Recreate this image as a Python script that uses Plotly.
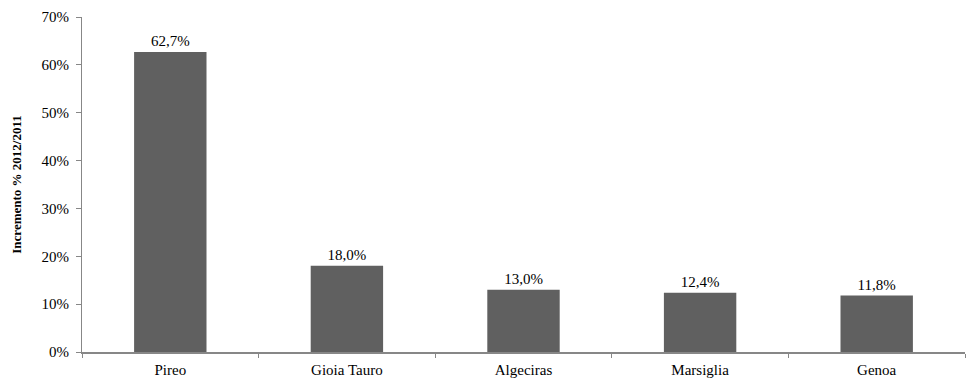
import plotly.graph_objects as go

# Container traffic growth by port, 2012 vs 2011
ports = ["Pireo", "Gioia Tauro", "Algeciras", "Marsiglia", "Genoa"]
growth_pct = [62.7, 18.0, 13.0, 12.4, 11.8]
y_ticks = [0, 10, 20, 30, 40, 50, 60, 70]
y_tick_labels = [f"{v}%" for v in y_ticks]

axis_color = "#878787"
font_family = "Liberation Serif"

fig = go.Figure(
    go.Bar(
        x=ports,
        y=growth_pct,
        marker=dict(color="#606060", line=dict(width=0)),
        width=0.41,
        texttemplate="%{y:.1f}%",
        textposition="outside",
        textfont=dict(family=font_family, size=15, color="#000000"),
        cliponaxis=False,
    )
)

fig.update_layout(
    width=969,
    height=379,
    margin=dict(l=82, r=4, t=17, b=27),
    paper_bgcolor="white",
    plot_bgcolor="white",
    separators=",.",
    showlegend=False,
    font=dict(family=font_family, size=15, color="#000000"),
    xaxis=dict(
        automargin=False,
        showline=True,
        linecolor=axis_color,
        linewidth=2,
        ticks="outside",
        tickson="boundaries",
        ticklen=4,
        tickcolor=axis_color,
        showgrid=False,
        ticklabelstandoff=3,
        tickfont=dict(family=font_family, size=15, color="#000000"),
    ),
    yaxis=dict(
        automargin=False,
        range=[0, 70],
        tickmode="array",
        tickvals=y_ticks,
        ticktext=y_tick_labels,
        showline=True,
        linecolor=axis_color,
        linewidth=1,
        ticks="outside",
        ticklen=5,
        tickcolor=axis_color,
        showgrid=False,
        zeroline=False,
        ticklabelstandoff=4,
        tickfont=dict(family=font_family, size=15, color="#000000"),
        title=dict(
            text="<b>Incremento % 2012/2011</b>",
            font=dict(family=font_family, size=13, color="#000000"),
            standoff=16,
        ),
    ),
)

fig.write_html("out.html")
